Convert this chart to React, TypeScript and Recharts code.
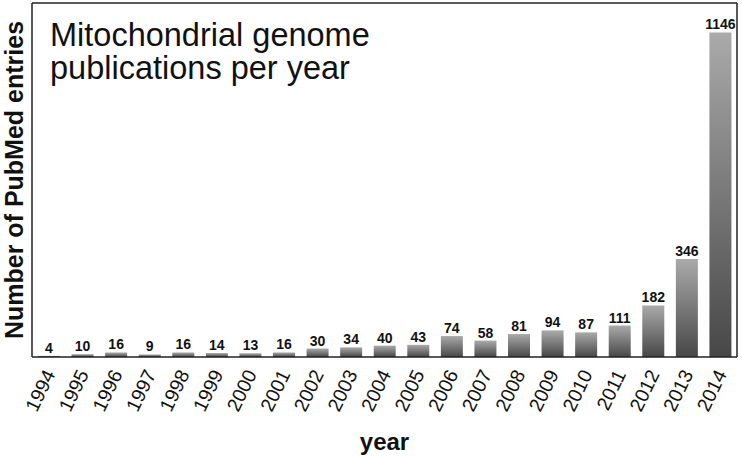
import { BarChart, Bar, XAxis, YAxis, LabelList, ReferenceLine } from 'recharts'

const years = [
  '1994', '1995', '1996', '1997', '1998', '1999', '2000', '2001', '2002', '2003', '2004',
  '2005', '2006', '2007', '2008', '2009', '2010', '2011', '2012', '2013', '2014',
]
const entries = [4, 10, 16, 9, 16, 14, 13, 16, 30, 34, 40, 43, 74, 58, 81, 94, 87, 111, 182, 346, 1146]

const data = years.map((year, i) => ({ year, entries: entries[i] }))

const FONT = 'Arial, "Liberation Sans", Helvetica, sans-serif'

const YearTick = ({ x, y, payload }: any) => {
  const tx = x + 7
  const ty = y + 9
  return (
    <text
      x={tx}
      y={ty}
      transform={`rotate(-64, ${tx}, ${ty})`}
      textAnchor="end"
      fontSize={19.5}
      fontFamily={FONT}
      fill="#111"
    >
      {payload.value}
    </text>
  )
}

const App = () => {
  return (
    <div style={{ position: 'absolute', left: 0, top: 0, width: 742, height: 456, background: '#fff' }}>
      <BarChart
        width={742}
        height={456}
        data={data}
        margin={{ top: 3, right: 0, left: 0, bottom: 0 }}
        barCategoryGap={0}
      >
        <defs>
          <linearGradient id="barFill" x1="0" y1="0" x2="0" y2="1">
            <stop offset="0%" stopColor="#aaaaaa" />
            <stop offset="100%" stopColor="#474747" />
          </linearGradient>
        </defs>
        <XAxis
          dataKey="year"
          interval={0}
          height={99}
          tickLine={false}
          axisLine={{ stroke: '#222', strokeWidth: 1.5 }}
          tick={<YearTick />}
          label={{
            value: 'year',
            position: 'insideBottom',
            offset: 6,
            style: { fontSize: 24, fontWeight: 'bold', fontFamily: FONT, fill: '#111' },
          }}
        />
        <YAxis
          domain={[0, 1250]}
          width={32}
          tick={false}
          tickLine={false}
          axisLine={{ stroke: '#222', strokeWidth: 1.5 }}
          label={{
            value: 'Number of PubMed entries',
            angle: -90,
            position: 'center',
            dx: -2,
            style: { textAnchor: 'middle', fontSize: 25, fontWeight: 'bold', fontFamily: FONT, fill: '#111' },
          }}
        />
        <YAxis
          yAxisId="right"
          orientation="right"
          width={5}
          tick={false}
          tickLine={false}
          axisLine={{ stroke: '#222', strokeWidth: 1.5 }}
        />
        <ReferenceLine y={1250} stroke="#222" strokeWidth={1.5} />
        <Bar dataKey="entries" fill="url(#barFill)" barSize={22} isAnimationActive={false}>
          <LabelList
            dataKey="entries"
            position="top"
            offset={3}
            style={{ fontSize: 14, fontWeight: 'bold', fontFamily: FONT, fill: '#111' }}
          />
        </Bar>
      </BarChart>
      <div
        style={{
          position: 'absolute',
          left: 50,
          top: 19,
          fontFamily: FONT,
          fontSize: 32.5,
          lineHeight: '33px',
          color: '#111',
        }}
      >
        Mitochondrial genome
        <br />
        publications per year
      </div>
    </div>
  )
}

export default App
